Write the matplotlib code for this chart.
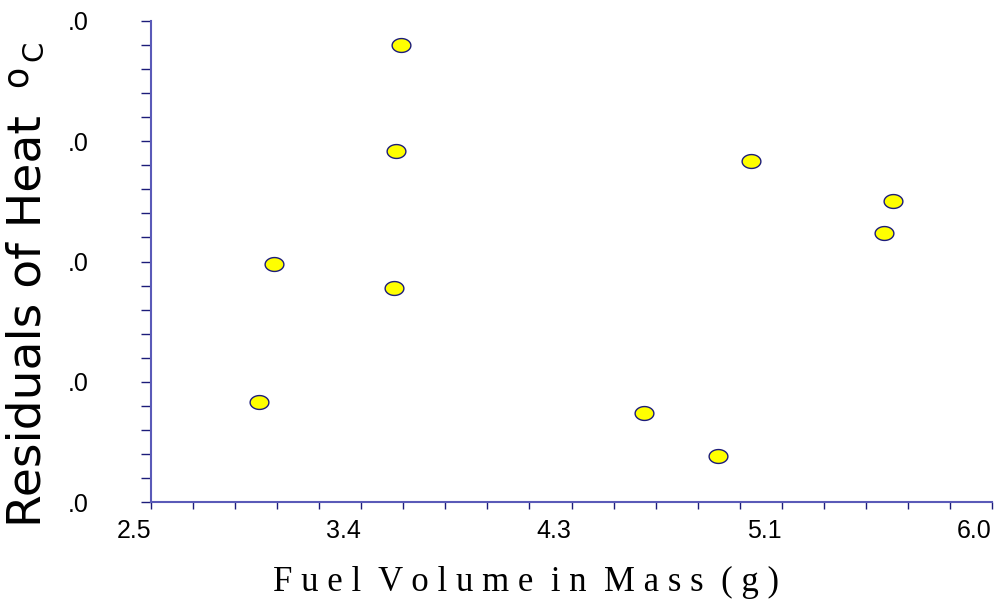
import numpy as np
import matplotlib
matplotlib.use("Agg")
import matplotlib.pyplot as plt
from matplotlib.path import Path

# data
fuel_mass = [3.539, 3.520, 4.999, 5.589, 5.550, 3.010, 3.510, 2.950, 4.550, 4.860]
residuals = [3.798, 2.916, 2.838, 2.501, 2.237, 1.979, 1.777, 0.834, 0.738, 0.380]

x_ticks = [2.5, 3.375, 4.25, 5.125, 6.0]
x_tick_labels = ["2.5", "3.4", "4.3", "5.1", "6.0"]
y_ticks = [0, 1, 2, 3, 4]
y_tick_labels = [".0", ".0", ".0", ".0", ".0"]

spine_col = "#5a5ab8"
tick_col = "#1c1c7a"

W, H = 995, 599

# flattened ellipse marker
t = np.linspace(0, 2 * np.pi, 60)
ellipse = Path(np.column_stack([np.cos(t), 0.74 * np.sin(t)]), closed=True)

fig = plt.figure(figsize=(W / 100, H / 100), dpi=100)
ax = fig.add_axes([151 / W, 97 / H, 841 / W, 481 / H])

ax.plot(fuel_mass, residuals, linestyle="none", marker=ellipse, ms=13.5,
        mfc="#ffff00", mec="#1c1c7a", mew=1.0, clip_on=False)

ax.set_xlim(2.5, 6.0)
ax.set_ylim(0, 4)
ax.set_xticks(x_ticks)
ax.set_xticklabels(x_tick_labels, fontsize=18, family="Liberation Sans", ha="right")
ax.set_xticks(np.linspace(2.5, 6.0, 21), minor=True)
ax.set_yticks(y_ticks)
ax.set_yticklabels(y_tick_labels, fontsize=18, family="Liberation Sans")
ax.set_yticks(np.linspace(0, 4, 21), minor=True)

ax.tick_params(axis="x", which="both", direction="out", length=5, width=1,
               color=tick_col, pad=7)
ax.tick_params(axis="y", which="both", direction="out", length=7, width=1,
               color=tick_col, pad=38)

for side in ["top", "right"]:
    ax.spines[side].set_visible(False)
for side in ["left", "bottom"]:
    ax.spines[side].set_color(spine_col)
    ax.spines[side].set_linewidth(1.5)

# x axis title, letter spaced serif
fig.text(526 / W, 8 / H, "F u e l  V o l u m e  i n  M a s s  ( g )",
         fontsize=25, family="Liberation Serif", ha="center", va="baseline")

# y axis title, then a raised o and a C after it
ylab = fig.text(41 / W, (H - 527) / H, "Residuals of Heat", rotation=90,
                rotation_mode="anchor", ha="left", va="baseline",
                fontsize=34, family="DejaVu Sans")
fig.canvas.draw()
top = ylab.get_window_extent().y1
fig.text(27 / W, (top + 28) / H, "o", rotation=90, rotation_mode="anchor",
         ha="left", va="baseline", fontsize=25, family="DejaVu Sans")
fig.text(42 / W, (top + 54) / H, "C", rotation=90, rotation_mode="anchor",
         ha="left", va="baseline", fontsize=21, family="DejaVu Sans")

fig.savefig("out.png", dpi=100)
